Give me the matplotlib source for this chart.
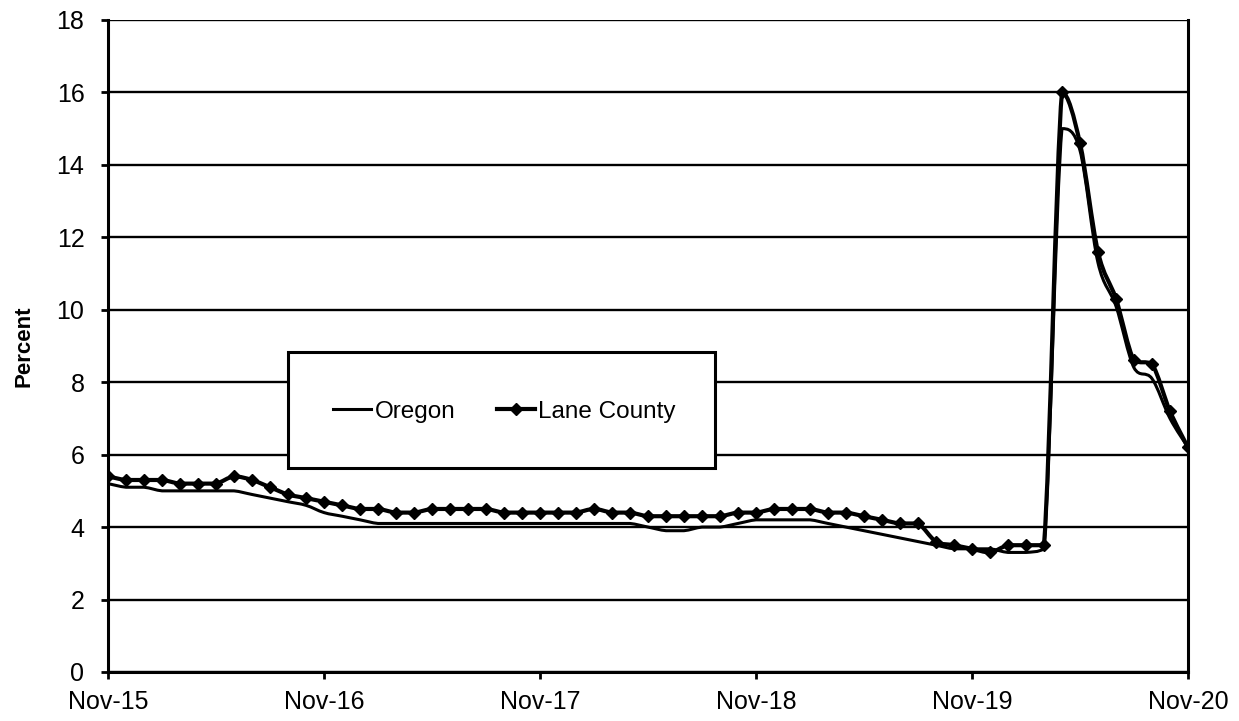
import numpy as np
import matplotlib
matplotlib.use('Agg')
import matplotlib.pyplot as plt
from matplotlib.path import Path
from matplotlib.patches import PathPatch, Rectangle
from matplotlib.lines import Line2D

plt.rcParams['font.family'] = ['Liberation Sans', 'DejaVu Sans']

# Monthly unemployment rate, Nov-15 .. Nov-20 (61 months)
oregon = [5.2, 5.1, 5.1, 5.0, 5.0, 5.0, 5.0, 5.0, 4.9, 4.8,
          4.7, 4.6, 4.4, 4.3, 4.2, 4.1, 4.1, 4.1, 4.1, 4.1,
          4.1, 4.1, 4.1, 4.1, 4.1, 4.1, 4.1, 4.1, 4.1, 4.1,
          4.0, 3.9, 3.9, 4.0, 4.0, 4.1, 4.2, 4.2, 4.2, 4.2,
          4.1, 4.0, 3.9, 3.8, 3.7, 3.6, 3.5, 3.4, 3.4, 3.4,
          3.3, 3.3, 3.4, 15.0, 14.4, 11.3, 10.1, 8.4, 8.1, 7.0,
          6.2]
lane = [5.4, 5.3, 5.3, 5.3, 5.2, 5.2, 5.2, 5.4, 5.3, 5.1,
        4.9, 4.8, 4.7, 4.6, 4.5, 4.5, 4.4, 4.4, 4.5, 4.5,
        4.5, 4.5, 4.4, 4.4, 4.4, 4.4, 4.4, 4.5, 4.4, 4.4,
        4.3, 4.3, 4.3, 4.3, 4.3, 4.4, 4.4, 4.5, 4.5, 4.5,
        4.4, 4.4, 4.3, 4.2, 4.1, 4.1, 3.6, 3.5, 3.4, 3.3,
        3.5, 3.5, 3.5, 16.0, 14.6, 11.6, 10.3, 8.6, 8.5, 7.2,
        6.2]
tick_labels = ['Nov-15', 'Nov-16', 'Nov-17', 'Nov-18', 'Nov-19', 'Nov-20']

x = np.arange(len(lane))


def smooth_path(xs, ys):
    # smoothed line: Bezier segments through the data points,
    # control points kept within each segment's range (no overshoot)
    pts = np.column_stack([xs, ys]).astype(float)
    n = len(pts)
    verts = [pts[0]]
    codes = [Path.MOVETO]
    for i in range(n - 1):
        p0 = pts[i - 1] if i > 0 else pts[i]
        p1 = pts[i]
        p2 = pts[i + 1]
        p3 = pts[i + 2] if i + 2 < n else pts[i + 1]
        c1 = p1 + (p2 - p0) / 6
        c2 = p2 - (p3 - p1) / 6
        lo, hi = min(p1[1], p2[1]), max(p1[1], p2[1])
        c1[1] = np.clip(c1[1], lo, hi)
        c2[1] = np.clip(c2[1], lo, hi)
        verts += [c1, c2, p2]
        codes += [Path.CURVE4] * 3
    return Path(verts, codes)


fig = plt.figure(figsize=(12.39, 7.21), dpi=100)
ax = fig.add_axes([0.0872, 0.068, 0.8716, 0.9043])

ax.add_patch(PathPatch(smooth_path(x, oregon), fill=False, edgecolor='black',
                       lw=2.2, zorder=3, capstyle='round', joinstyle='round'))
ax.add_patch(PathPatch(smooth_path(x, lane), fill=False, edgecolor='black',
                       lw=3.0, zorder=4, capstyle='round', joinstyle='round'))
ax.plot(x, lane, ls='none', color='black', marker='D', markersize=6, zorder=4)

ax.set_xlim(0, 60)
ax.set_ylim(0, 18)
ax.set_yticks(range(0, 19, 2))
ax.set_xticks(range(0, 61, 12))
ax.set_xticklabels(tick_labels)
ax.tick_params(labelsize=18, width=2, length=5, colors='black')
ax.tick_params(axis='y', pad=12)
ax.tick_params(axis='x', pad=8)
ax.yaxis.grid(True, color='black', lw=1.7)
ax.set_axisbelow(True)
for s in ['left', 'bottom', 'right']:
    ax.spines[s].set_linewidth(2.2)
ax.spines['top'].set_visible(False)
ax.set_ylabel('Percent', fontsize=16, fontweight='bold')
ax.yaxis.set_label_coords(-0.068, 0.5)

# legend box
ax.add_patch(Rectangle((0.1667, 0.3129), 0.3953, 0.1779, transform=ax.transAxes,
                       facecolor='white', edgecolor='black', lw=2.2, zorder=5))
handles = [Line2D([], [], color='black', lw=2.2),
           Line2D([], [], color='black', lw=3.0, marker='D', markersize=6)]
leg = ax.legend(handles, ['Oregon', 'Lane County'], loc='center',
                bbox_to_anchor=(0.367, 0.399), ncol=2, fontsize=17.5,
                frameon=False, borderpad=0, handlelength=1.56,
                handletextpad=0.15, columnspacing=1.7)
leg.set_zorder(6)

fig.savefig('out.png', dpi=100)
